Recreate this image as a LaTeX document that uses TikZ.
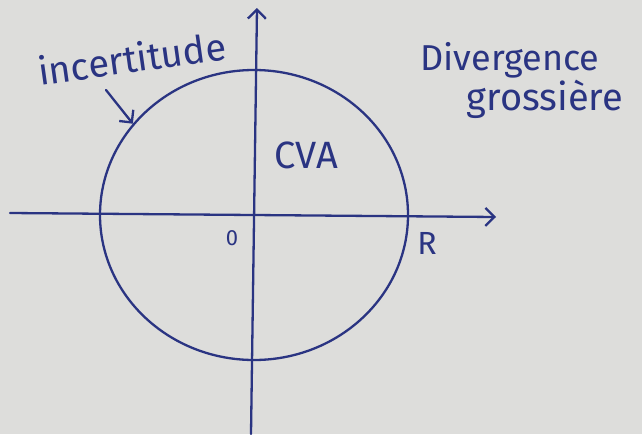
\documentclass[tikz,border=0pt]{standalone}
\usepackage{fontspec}
\setmainfont{Fira Sans}
\usetikzlibrary{arrows.meta,shapes.geometric}
\definecolor{ink}{RGB}{42,52,130}
\definecolor{paper}{RGB}{221,221,219}
\begin{document}
\begin{tikzpicture}[x=1pt,y=-1pt,
  inkline/.style={draw=ink, line width=2.3pt, line cap=round},
  barb/.style={-{Straight Barb[length=9pt,width=18pt,line width=2.3pt]}},
  lbl/.style={text=ink, font=\fontsize{36}{40}\selectfont, inner sep=0pt}]
\fill[paper] (0,0) rectangle (642,434);
\useasboundingbox (0,0) rectangle (642,434);
% axes
\coordinate (xs) at (10,213);
\coordinate (xe) at (496,217);
\coordinate (ys) at (251,434);
\coordinate (ye) at (257,8);
\draw[inkline,barb] (xs) -- (xe);
\draw[inkline,barb] (ys) -- (ye);
% circle
\node[ellipse, inkline, minimum width=308pt, minimum height=290pt, inner sep=0pt] (circ) at (254,215) {};
% labels
\node[lbl, rotate=8, font=\fontsize{38}{40}\selectfont] (inc) at (132,58) {incertitude};
\node[lbl] (div) at (510,60) {Divergence};
\node[lbl, font=\fontsize{38}{40}\selectfont] (gro) at (545,99) {grossière};
\node[lbl, font=\fontsize{38}{40}\selectfont] (cva) at (306,155) {CVA};
\node[lbl, font=\fontsize{22}{24}\selectfont] (orig) at (232,238) {0};
\node[lbl, font=\fontsize{32}{34}\selectfont] (r) at (427,243) {R};
% uncertainty arrow
\coordinate (ia) at (106,90);
\draw[inkline,barb] (ia) -- (circ.143);
\end{tikzpicture}
\end{document}
